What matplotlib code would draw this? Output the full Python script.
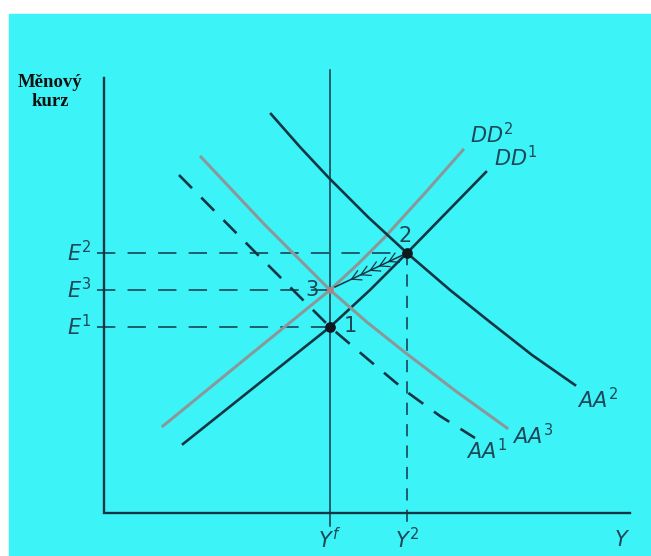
import numpy as np
import matplotlib.pyplot as plt
from matplotlib.patches import Rectangle

plt.rcParams['mathtext.fontset'] = 'dejavusans'

# curves (pixel coordinates, y down)
dd1_x = [183, 257, 330, 370, 407, 446, 486]
dd1_y = [444, 385, 327, 290, 253, 213, 172]
dd2_x = [163, 250, 330, 358, 385, 425, 463]
dd2_y = [426, 355, 290, 264, 237, 193, 150]
aa1_x = [179, 255, 330, 370, 407, 440, 475]
aa1_y = [175, 252, 327, 361, 392, 416, 438]
aa2_x = [271, 300, 329, 368, 407, 450, 490, 532, 575]
aa2_y = [114, 147, 178, 217, 253, 290, 322, 355, 385]
aa3_x = [201, 265, 330, 368, 407, 457, 507]
aa3_y = [157, 225, 290, 323, 354, 392, 428]

# equilibria
eq_labels = ['1', '2', '3']
eq_x = [330, 407, 330]
eq_y = [327, 253, 290]

BG = '#3cf4f8'
DARK = '#143644'
GRAY = '#8a9899'
TXT = '#1d4656'

fig = plt.figure(figsize=(6.51, 5.56), dpi=100)
ax = fig.add_axes([0, 0, 1, 1])
ax.set_xlim(0, 651)
ax.set_ylim(556, 0)
ax.axis('off')
ax.add_patch(Rectangle((9, 14), 651, 556, color=BG, zorder=0))

# axes
ax.plot([104, 104, 630], [78, 513, 513], color=DARK, lw=1.7, solid_joinstyle='miter')
ax.plot([330, 330], [70, 526], color=DARK, lw=1.1)
ax.plot([407, 407], [253, 513], color=DARK, lw=1.1, ls=(0, (8, 6)))
ax.plot([407, 407], [513, 521], color=DARK, lw=1.1)

# dashed guides to the y axis
for x_end, y in [(eq_x[1], eq_y[1]), (eq_x[2], eq_y[2]), (eq_x[0], eq_y[0])]:
    ax.plot([97, x_end], [y, y], color=DARK, lw=1.1, ls=(0, (12, 8)))

ax.plot(dd1_x, dd1_y, color=DARK, lw=1.9)
ax.plot(dd2_x, dd2_y, color=GRAY, lw=2.2)
ax.plot(aa1_x, aa1_y, color=DARK, lw=1.9, ls=(0, (7, 5)))
ax.plot(aa2_x, aa2_y, color=DARK, lw=1.9)
ax.plot(aa3_x, aa3_y, color=GRAY, lw=2.2)

# arrow from 2 to 3 with chevrons
p2 = np.array([eq_x[1], eq_y[1]], float)
p3 = np.array([eq_x[2] + 5, eq_y[2] - 3], float)
ax.plot([p2[0], p3[0]], [p2[1], p3[1]], color=DARK, lw=1.1)
d = (p3 - p2) / np.linalg.norm(p3 - p2)
n = np.array([-d[1], d[0]])
for t in [0.25, 0.38, 0.51, 0.64, 0.77]:
    tip = p2 + (p3 - p2) * t
    for s in (1, -1):
        end = tip - d * 9 + n * 5 * s
        ax.plot([tip[0], end[0]], [tip[1], end[1]], color=DARK, lw=0.9)

ax.scatter(eq_x[:2], eq_y[:2], s=45, color='#101820', zorder=5)
ax.scatter(eq_x[2:], eq_y[2:], s=14, color='#b08080', zorder=5)

fs = 15
ax.text(350, 326, eq_labels[0], color=TXT, fontsize=fs, ha='center', va='center')
ax.text(405, 236, eq_labels[1], color=TXT, fontsize=fs, ha='center', va='center')
ax.text(312, 290, eq_labels[2], color=TXT, fontsize=fs, ha='center', va='center')

for lbl, y in [('2', 253), ('3', 290), ('1', 327)]:
    ax.text(92, y, r'$E^{\mathrm{' + lbl + '}}$', color=TXT, fontsize=fs,
            ha='right', va='center')

ax.text(330, 540, r'$Y^{f}$', color=TXT, fontsize=fs, ha='center', va='center')
ax.text(407, 540, r'$Y^{\mathrm{2}}$', color=TXT, fontsize=fs, ha='center', va='center')
ax.text(622, 540, r'$Y$', color=TXT, fontsize=fs, ha='center', va='center')

ax.text(470, 135, r'$DD^{\mathrm{2}}$', color=TXT, fontsize=fs, ha='left', va='center')
ax.text(494, 158, r'$DD^{\mathrm{1}}$', color=TXT, fontsize=fs, ha='left', va='center')
ax.text(577, 400, r'$AA^{\mathrm{2}}$', color=TXT, fontsize=fs, ha='left', va='center')
ax.text(512, 436, r'$AA^{\mathrm{3}}$', color=TXT, fontsize=fs, ha='left', va='center')
ax.text(466, 451, r'$AA^{\mathrm{1}}$', color=TXT, fontsize=fs, ha='left', va='center')

ax.text(50, 92, 'Měnový\nkurz', color='#101010', fontsize=13.5, fontweight='bold',
        family='Liberation Serif', ha='center', va='center', linespacing=1.1)

fig.savefig('out.png', dpi=100)
